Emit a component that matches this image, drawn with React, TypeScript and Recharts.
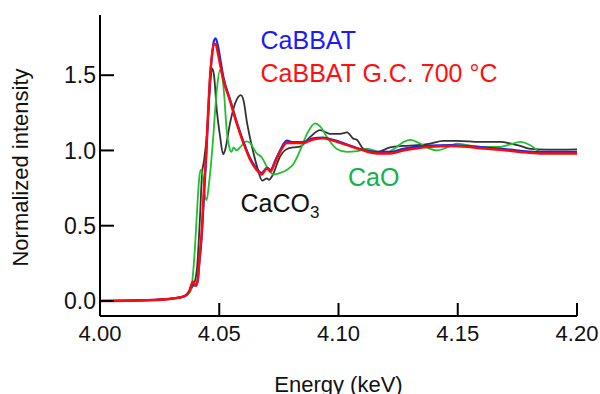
import { LineChart, Line, XAxis, YAxis } from 'recharts'

// CaBBAT / CaBBAT G.C. 700 °C share one energy grid
const cabbatEnergy = [
  4.0, 4.02, 4.03, 4.0352, 4.0373, 4.039, 4.04, 4.0409, 4.0417, 4.0426, 4.0436, 4.0445, 4.0453, 4.0461,
  4.047, 4.0478, 4.0485, 4.0495, 4.0505, 4.0517, 4.0545, 4.0573, 4.0601, 4.0629, 4.0657, 4.0678, 4.07,
  4.0715, 4.0734, 4.0755, 4.0783, 4.081, 4.0852, 4.0893, 4.0935, 4.0977, 4.1036, 4.1091, 4.1162, 4.1216,
  4.1271, 4.133, 4.1384, 4.1468, 4.1539, 4.1594, 4.1678, 4.1762, 4.1846, 4.2,
]
const cabbatIntensity = [
  0, 0.005, 0.015, 0.03, 0.06, 0.12, 0.1, 0.13, 0.26, 0.42, 0.7, 0.95, 1.22, 1.47,
  1.64, 1.73, 1.745, 1.69, 1.6, 1.49, 1.34, 1.19, 1.06, 0.95, 0.88, 0.85, 0.885,
  0.87, 0.93, 1.0, 1.065, 1.055, 1.055, 1.08, 1.085, 1.07, 1.04, 1.01, 0.99, 0.99,
  1.01, 1.025, 1.033, 1.036, 1.03, 1.022, 1.012, 0.998, 0.99, 0.99,
]
const gcIntensity = [
  0, 0.005, 0.015, 0.03, 0.06, 0.13, 0.1, 0.13, 0.28, 0.45, 0.75, 0.98, 1.25, 1.48,
  1.64, 1.71, 1.705, 1.64, 1.56, 1.47, 1.33, 1.18, 1.05, 0.94, 0.87, 0.84, 0.88,
  0.86, 0.92, 0.99, 1.05, 1.05, 1.05, 1.073, 1.08, 1.065, 1.035, 1.007, 0.98, 0.98,
  1.0, 1.015, 1.024, 1.03, 1.025, 1.015, 1.005, 0.99, 0.98, 0.98,
]

const caco3Energy = [
  4.0, 4.02, 4.03, 4.0352, 4.0377, 4.039, 4.0398, 4.0407, 4.0419, 4.0428, 4.0436, 4.0449, 4.0461, 4.047,
  4.0478, 4.0489, 4.0503, 4.0516, 4.0524, 4.0545, 4.0566, 4.0591, 4.0602, 4.0617, 4.0638, 4.0659, 4.068,
  4.07, 4.0709, 4.0722, 4.0755, 4.0784, 4.081, 4.0839, 4.0881, 4.0923, 4.0965, 4.1007, 4.1036, 4.1061,
  4.1078, 4.1103, 4.1162, 4.1216, 4.1271, 4.133, 4.1384, 4.1439, 4.1497, 4.1594, 4.1678, 4.172, 4.1762,
  4.1804, 4.1875, 4.2,
]
const caco3Intensity = [
  0, 0.005, 0.015, 0.03, 0.07, 0.1, 0.13, 0.22, 0.55, 0.85, 0.93, 1.12, 1.42, 1.545,
  1.5, 1.28, 1.1, 0.975, 1.0, 1.18, 1.31, 1.367, 1.33, 1.18, 1.02, 0.89, 0.8,
  0.815, 0.805, 0.83, 0.96, 1.01, 1.02, 1.025, 1.09, 1.135, 1.11, 1.11, 1.12, 1.08,
  1.07, 1.013, 0.99, 1.02, 1.03, 1.035, 1.046, 1.064, 1.064, 1.057, 1.057, 1.047, 1.03,
  1.01, 1.005, 1.007,
]

const caoEnergy = [
  4.0, 4.02, 4.03, 4.0352, 4.0378, 4.039, 4.0398, 4.0407, 4.0415, 4.0422, 4.0432, 4.044, 4.0447, 4.0457,
  4.0465, 4.0474, 4.0482, 4.0491, 4.0503, 4.0512, 4.052, 4.0532, 4.0541, 4.0551, 4.056, 4.0573, 4.0587,
  4.0615, 4.0629, 4.0657, 4.0678, 4.07, 4.0728, 4.0755, 4.0783, 4.0811, 4.0839, 4.0868, 4.0902, 4.0923,
  4.0951, 4.0993, 4.1036, 4.1078, 4.112, 4.1148, 4.119, 4.1232, 4.1274, 4.13, 4.1342, 4.1384, 4.1413,
  4.1455, 4.1497, 4.1539, 4.1594, 4.1678, 4.172, 4.1762, 4.1804, 4.1846, 4.1888, 4.2,
]
const caoIntensity = [
  0, 0.005, 0.015, 0.03, 0.06, 0.18, 0.35, 0.6, 0.8, 0.87, 0.82, 0.7, 0.67, 0.78,
  0.9, 1.07, 1.25, 1.42, 1.533, 1.5, 1.38, 1.12, 1.03, 0.99, 1.02, 1.0, 1.02,
  1.06, 1.05, 0.98, 0.955, 0.89, 0.84, 0.85, 0.87, 0.91, 1.0, 1.11, 1.18, 1.16,
  1.09, 1.01, 0.99, 0.995, 1.01, 1.0, 0.98, 1.01, 1.057, 1.07, 1.046, 1.01, 1.0,
  1.02, 1.046, 1.035, 1.024, 1.024, 1.04, 1.057, 1.035, 0.99, 0.98, 0.98,
]

const xMajorTicks = [4.0, 4.05, 4.1, 4.15, 4.2]
const xMinorTicks = [
  4.01, 4.02, 4.03, 4.04, 4.06, 4.07, 4.08, 4.09, 4.11, 4.12, 4.13, 4.14, 4.16, 4.17, 4.18, 4.19,
]
const yMajorTicks = [0, 0.5, 1.0, 1.5]
const yMinorTicks = [0.1, 0.2, 0.3, 0.4, 0.6, 0.7, 0.8, 0.9, 1.1, 1.2, 1.3, 1.4, 1.6, 1.7, 1.8]

const toPoints = (e: number[], i: number[]) => e.map((v, k) => ({ e: v, i: i[k] }))

const cabbat = toPoints(cabbatEnergy, cabbatIntensity)
const gc700 = toPoints(cabbatEnergy, gcIntensity)
const caco3 = toPoints(caco3Energy, caco3Intensity)
const cao = toPoints(caoEnergy, caoIntensity)

const font = '"Liberation Sans", Arial, sans-serif'
const tickStroke = { stroke: '#000', strokeWidth: 2 }
const frame = { stroke: '#000', strokeWidth: 2 }

export default function App() {
  return (
    <div style={{ position: 'absolute', left: 0, top: 0, width: 600, height: 394, background: '#fff' }}>
      <LineChart width={600} height={394} margin={{ top: 15, right: 23, left: 0, bottom: 0 }}>
        <XAxis
          xAxisId="minor"
          dataKey="e"
          type="number"
          domain={[4.0, 4.2]}
          ticks={xMinorTicks}
          interval={0}
          height={0}
          tickSize={-7}
          tickLine={tickStroke}
          tick={{ fontSize: 0 }}
          tickFormatter={() => ''}
          axisLine={false}
        />
        <XAxis
          dataKey="e"
          type="number"
          domain={[4.0, 4.2]}
          ticks={xMajorTicks}
          interval={0}
          allowDataOverflow
          height={78}
          tickSize={-13}
          tickMargin={22}
          tickLine={tickStroke}
          tickFormatter={(v: number) => v.toFixed(2)}
          tick={{ fontSize: 22, fontFamily: font, fill: '#111' }}
          axisLine={frame}
        />
        <XAxis
          xAxisId="top"
          orientation="top"
          dataKey="e"
          type="number"
          domain={[4.0, 4.2]}
          height={0}
          tick={false}
          tickLine={false}
          axisLine={frame}
        />
        <YAxis
          yAxisId="minor"
          type="number"
          domain={[-0.1, 1.9]}
          ticks={yMinorTicks}
          interval={0}
          width={0}
          tickSize={-7}
          tickLine={tickStroke}
          tick={{ fontSize: 0 }}
          tickFormatter={() => ''}
          axisLine={false}
        />
        <YAxis
          type="number"
          domain={[-0.1, 1.9]}
          ticks={yMajorTicks}
          interval={0}
          allowDataOverflow
          width={100}
          tickSize={-14}
          tickMargin={18}
          tickLine={tickStroke}
          tickFormatter={(v: number) => v.toFixed(1)}
          tick={{ fontSize: 23, fontFamily: font, fill: '#111' }}
          axisLine={frame}
        />
        <YAxis
          yAxisId="right"
          orientation="right"
          type="number"
          domain={[-0.1, 1.9]}
          width={0}
          tick={false}
          tickLine={false}
          axisLine={frame}
        />
        <Line data={caco3} dataKey="i" type="monotone" stroke="#333333" strokeWidth={1.8} dot={false} isAnimationActive={false} />
        <Line data={cao} dataKey="i" type="monotone" stroke="#1ec02c" strokeWidth={1.8} dot={false} isAnimationActive={false} />
        <Line data={cabbat} dataKey="i" type="monotone" stroke="#1428f0" strokeWidth={2.2} dot={false} isAnimationActive={false} />
        <Line data={gc700} dataKey="i" type="monotone" stroke="#ff0a0a" strokeWidth={2.4} dot={false} isAnimationActive={false} />
      </LineChart>
      <svg width={600} height={394} style={{ position: 'absolute', left: 0, top: 0, pointerEvents: 'none' }}>
        <text x={28} y={167.5} transform="rotate(-90, 28, 167.5)" textAnchor="middle" fontSize={22} fontFamily={font} fill="#111">
          Normalized intensity
        </text>
        <text x={338.5} y={392} textAnchor="middle" fontSize={22} fontFamily={font} fill="#111">
          Energy  (keV)
        </text>
        <text x={260.5} y={48.5} fontSize={25} fontFamily={font} fill="#1a1aff">CaBBAT</text>
        <text x={260.5} y={81.5} fontSize={25} fontFamily={font} fill="#ff1010">CaBBAT G.C. 700 °C</text>
        <text x={240.5} y={211.5} fontSize={25} fontFamily={font} fill="#111">
          CaCO<tspan fontSize={17} dy={6}>3</tspan>
        </text>
        <text x={348} y={186} fontSize={25} fontFamily={font} fill="#14b04a">CaO</text>
      </svg>
    </div>
  )
}
